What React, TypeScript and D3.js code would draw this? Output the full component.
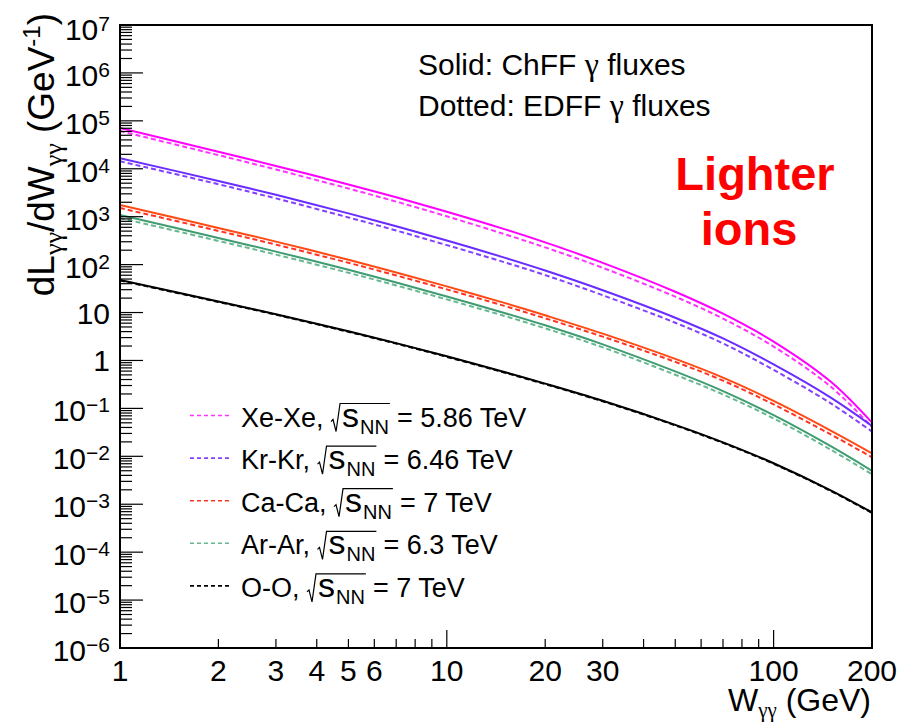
import React from 'react';
import * as d3 from 'd3';

const width = 914;
const height = 724;
const margin = { top: 25, right: 42, bottom: 76, left: 120 };
const font = "'Liberation Sans', Arial, Helvetica, sans-serif";
const greek = "'Liberation Serif', 'DejaVu Serif', serif";

// W_gg sampling points (GeV)
const wgg = [1, 2, 3, 5, 7, 10, 15, 20, 30, 50, 70, 100, 150, 200];

// dL/dW (GeV^-1): ChFF fluxes (solid) and EDFF fluxes (dotted)
const xeChFF = [70900, 22590, 11470, 4694, 2537, 1270, 550.6, 290.6, 109, 27.2, 9.49, 2.48, 0.355, 0.0504];
const xeEDFF = [61390, 19280, 9651, 3874, 2063, 1018, 433, 228.6, 85.7, 21.4, 7.46, 1.95, 0.279, 0.0406];
const krChFF = [16530, 5582, 2862, 1171, 632.7, 318.4, 140, 75.3, 29.2, 7.8, 2.88, 0.827, 0.166, 0.0431];
const krEDFF = [14310, 4765, 2408, 966, 514.6, 255.2, 112.2, 60.4, 22.97, 6.13, 2.27, 0.635, 0.126, 0.0328];
const caChFF = [1753, 583.2, 302, 126, 68.7, 35.1, 15.9, 8.75, 3.63, 1.077, 0.4385, 0.1431, 0.034, 0.01154];
const caEDFF = [1518, 505, 261.5, 109.1, 59.5, 30.4, 13.77, 7.58, 3.14, 0.933, 0.3797, 0.121, 0.0283, 0.00952];
const arChFF = [1084, 360.7, 186.7, 77.9, 42.5, 21.7, 9.82, 5.41, 2.17, 0.5906, 0.2292, 0.0723, 0.01608, 0.00498];
const arEDFF = [938.6, 312.3, 161.7, 67.5, 36.8, 18.79, 8.5, 4.68, 1.88, 0.504, 0.1956, 0.0617, 0.01359, 0.00421];
const ooChFF = [47.7, 17.06, 9.22, 4.06, 2.3, 1.22, 0.574, 0.3286, 0.1438, 0.0454, 0.01957, 0.00717, 0.00193, 0.000674];
const ooEDFF = [46.6, 16.65, 9.0, 3.96, 2.245, 1.19, 0.56, 0.3207, 0.1403, 0.0443, 0.0191, 0.007, 0.00188, 0.000658];

const systems = ['Xe-Xe', 'Kr-Kr', 'Ca-Ca', 'Ar-Ar', 'O-O'];
const energies = ['5.86', '6.46', '7', '6.3', '7'];
const solidColors = ['#ff00ff', '#6a2cff', '#ff4a14', '#3f9c70', '#000000'];
const dashColors = ['#ff33ff', '#8440ff', '#ff3322', '#66b890', '#000000'];

const yDecades = d3.range(-6, 8);
const xLabels = [1, 2, 3, 4, 5, 6, 10, 20, 30, 100, 200];

const series = systems.map((name, i) => ({
	name,
	energy: energies[i],
	solid: solidColors[i],
	dashed: dashColors[i],
	chff: [xeChFF, krChFF, caChFF, arChFF, ooChFF][i],
	edff: [xeEDFF, krEDFF, caEDFF, arEDFF, ooEDFF][i]
}));

let ctx: CanvasRenderingContext2D | null = null;
function textWidth(s: string, size: number) {
	if (!ctx) ctx = document.createElement('canvas').getContext('2d');
	if (!ctx) return s.length * size * 0.55;
	ctx.font = `${size}px ${font}`;
	return ctx.measureText(s).width;
}

function LegendRow({ s, x, y }: { s: any; x: number; y: number }) {
	const fs = 27;
	const prefix = `${s.name},`;
	const x0 = x + textWidth(prefix + ' ', fs) + 1;
	const sx = x0 + 10;
	const nnx = sx + textWidth('s', 34) + 1;
	const nnEnd = nnx + textWidth('NN', 20);
	return (
		<g>
			<line x1={190} x2={232} y1={y - 11} y2={y - 11} stroke={s.dashed} strokeWidth={1.6} strokeDasharray="4,3" />
			<text x={x} y={y} fontSize={fs}>{prefix}</text>
			<path
				d={`M${x0 - 1},${y - 5} L${x0 + 1},${y - 7} L${x0 + 4},${y + 5} L${x0 + 8},${y - 23} L${nnEnd + 1},${y - 23}`}
				fill="none"
				stroke="#000"
				strokeWidth={1.2}
			/>
			<text x={sx} y={y} fontSize={34}>s</text>
			<text x={nnx} y={y + 7} fontSize={20}>NN</text>
			<text x={nnEnd + 8} y={y} fontSize={fs}>{`= ${s.energy} TeV`}</text>
		</g>
	);
}

export default function App() {
	const x = d3.scaleLog().domain([1, 200]).range([margin.left, width - margin.right]);
	const y = d3.scaleLog().domain([1e-6, 1e7]).range([height - margin.bottom, margin.top]);

	const line = d3
		.line<number>()
		.x((_, i) => x(wgg[i]))
		.y(d => y(d))
		.curve(d3.curveCatmullRom.alpha(0.5));

	const yMinor: number[] = [];
	yDecades.slice(0, -1).forEach(e => {
		for (let k = 2; k <= 9; k++) yMinor.push(k * Math.pow(10, e));
	});
	const xMinor: number[] = [];
	[1, 10, 100].forEach(d => {
		for (let k = 2; k <= 9; k++) if (k * d < 200) xMinor.push(k * d);
	});
	xMinor.push(200);

	const x0 = margin.left;
	const x1 = width - margin.right;
	const y0 = height - margin.bottom;
	const y1 = margin.top;

	const labelShift = (e: number) => (e === 7 ? 15 : e === 0 || e === 1 ? 11 : 13);

	return (
		<svg width={width} height={height} style={{ position: 'absolute', left: 0, top: 0, background: '#fff' }} fontFamily={font}>
			<defs>
				<clipPath id="plot">
					<rect x={x0} y={y1} width={x1 - x0} height={y0 - y1} />
				</clipPath>
			</defs>
			<rect width={width} height={height} fill="#fff" />

			{/* curves */}
			<g clipPath="url(#plot)" fill="none">
				{series.map(s => (
					<g key={s.name}>
						<path d={line(s.edff) || ''} stroke={s.dashed} strokeWidth={2} strokeDasharray="5,3" />
						<path d={line(s.chff) || ''} stroke={s.solid} strokeWidth={2} />
					</g>
				))}
			</g>

			{/* ticks */}
			<g stroke="#000" strokeWidth={1.2}>
				{yDecades.map(e => (
					<line key={'ym' + e} x1={x0} x2={x0 + 23} y1={y(Math.pow(10, e))} y2={y(Math.pow(10, e))} />
				))}
				{yMinor.map((v, i) => (
					<line key={'yn' + i} x1={x0} x2={x0 + 12} y1={y(v)} y2={y(v)} />
				))}
				{[10, 100].map(v => (
					<line key={'xm' + v} x1={x(v)} x2={x(v)} y1={y0} y2={y0 - 18} />
				))}
				{xMinor.map(v => (
					<line key={'xn' + v} x1={x(v)} x2={x(v)} y1={y0} y2={y0 - 9} />
				))}
			</g>

			{/* frame */}
			<rect x={x0} y={y1} width={x1 - x0} height={y0 - y1} fill="none" stroke="#000" strokeWidth={2} />

			{/* y tick labels */}
			{yDecades.map(e => (
				<text key={'yl' + e} x={110} y={y(Math.pow(10, e)) + labelShift(e)} fontSize={30} textAnchor="end">
					{e === 0 ? '1' : e === 1 ? '10' : (
						<>
							10
							<tspan fontSize={21} dy={-9}>{e < 0 ? `\u2212${-e}` : `${e}`}</tspan>
						</>
					)}
				</text>
			))}

			{/* x tick labels */}
			{xLabels.map(v => (
				<text key={'xl' + v} x={x(v)} y={y0 + 33} fontSize={30} textAnchor="middle">
					{v}
				</text>
			))}

			{/* axis titles */}
			<text x={x1 - 1} y={y0 + 63} fontSize={32} textAnchor="end">
				W<tspan fontSize={21} dy={6} fontFamily={greek}>γγ</tspan>
				<tspan dy={-6}> (GeV)</tspan>
			</text>
			<text transform={`translate(54, 13) rotate(-90)`} fontSize={37} textAnchor="end">
				dL<tspan fontSize={26} dy={8} fontFamily={greek}>γγ</tspan>
				<tspan dy={-8}>/dW</tspan>
				<tspan fontSize={26} dy={8} fontFamily={greek}>γγ</tspan>
				<tspan dy={-8}> (GeV</tspan>
				<tspan fontSize={24} dy={-14}>-1</tspan>
				<tspan dy={14}>)</tspan>
			</text>

			{/* annotations */}
			<text x={418} y={75} fontSize={30}>
				Solid: ChFF <tspan fontFamily={greek} fontSize={32}>γ</tspan> fluxes
			</text>
			<text x={418} y={116} fontSize={30}>
				Dotted: EDFF <tspan fontFamily={greek} fontSize={32}>γ</tspan> fluxes
			</text>
			<text x={755} y={190} fontSize={47} fontWeight="bold" fill="#ff0000" textAnchor="middle">Lighter</text>
			<text x={749} y={245} fontSize={47} fontWeight="bold" fill="#ff0000" textAnchor="middle">ions</text>

			{/* legend */}
			{series.map((s, i) => (
				<LegendRow key={s.name} s={s} x={241} y={426.5 + i * 42.6} />
			))}
		</svg>
	);
}
